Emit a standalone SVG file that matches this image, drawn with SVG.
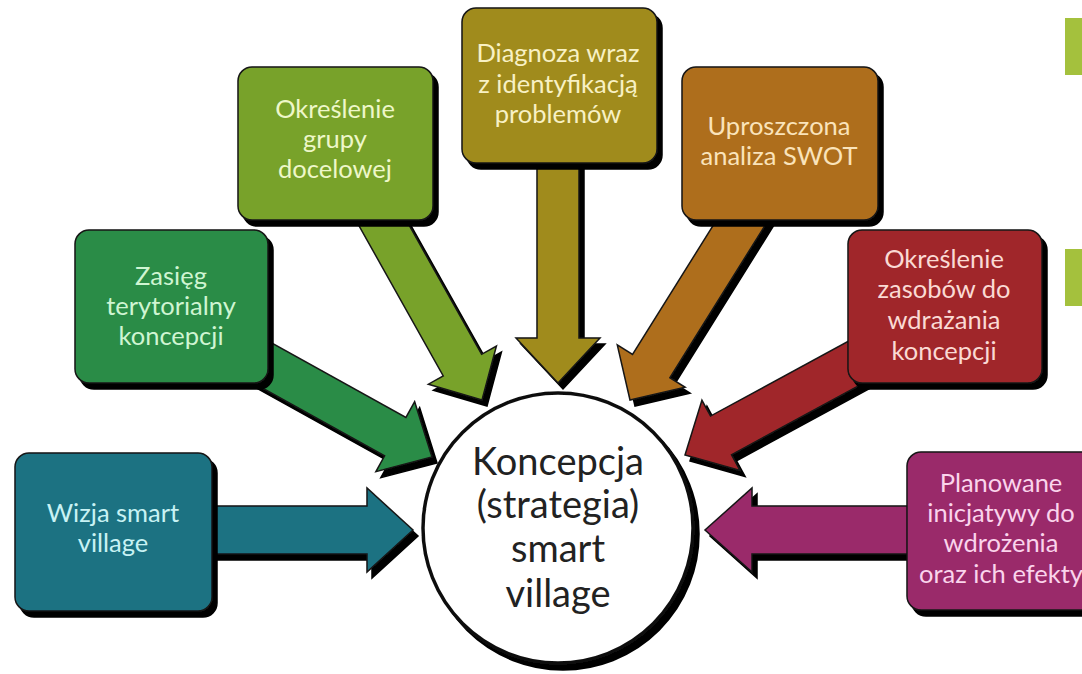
<svg xmlns="http://www.w3.org/2000/svg" width="1082" height="674" viewBox="0 0 1082 674">
<style>
.bx{stroke:#161616;stroke-width:1.5}
.ar{stroke:#161616;stroke-width:1.5;stroke-linejoin:miter}
.t{font-family:Lato,"Open Sans","Liberation Sans",sans-serif;font-size:25.5px;text-anchor:middle}
.c{font-family:Lato,"Open Sans","Liberation Sans",sans-serif;font-size:38px;text-anchor:middle;fill:#222}
</style>
<defs>
<filter id="sh" x="-20%" y="-20%" width="140%" height="140%">
<feOffset in="SourceAlpha" dx="5" dy="6" result="o"/>
<feMerge><feMergeNode in="o"/><feMergeNode in="SourceGraphic"/></feMerge>
</filter>
</defs>
<rect width="1082" height="674" fill="#ffffff"/>
<rect x="1065" y="18" width="17" height="57" fill="#a4c13d"/>
<rect x="1065" y="249" width="17" height="57" fill="#a4c13d"/>

<g id="connectors">
<g filter="url(#sh)"><polygon class="ar" fill="#1d7282" transform="translate(413,530)" points="-220,-24 -46,-24 -46,-42 0,0 -46,42 -46,24 -220,24"/></g>
<g filter="url(#sh)"><polygon class="ar" fill="#2b8c46" transform="translate(432,457) rotate(29)" points="-250,-22 -42,-22 -42,-40 0,0 -42,40 -42,22 -250,22"/></g>
<g filter="url(#sh)"><polygon class="ar" fill="#78a22b" transform="translate(482,400) rotate(60.7)" points="-260,-22 -40,-22 -40,-39 0,0 -40,39 -40,22 -260,22"/></g>
<g filter="url(#sh)"><polygon class="ar" fill="#a08b1e" transform="translate(558,383) rotate(90)" points="-280,-21 -45,-21 -45,-42 0,0 -45,42 -45,21 -280,21"/></g>
<g filter="url(#sh)"><polygon class="ar" fill="#ae6e1f" transform="translate(630,400) rotate(122)" points="-260,-22 -40,-22 -40,-40 0,0 -40,40 -40,22 -260,22"/></g>
<g filter="url(#sh)"><polygon class="ar" fill="#a0282a" transform="translate(685,455) rotate(151.5)" points="-250,-22 -41,-22 -41,-40 0,0 -41,40 -41,22 -250,22"/></g>
<g filter="url(#sh)"><polygon class="ar" fill="#9a2a6b" transform="translate(705,530) rotate(180)" points="-290,-24 -47,-24 -47,-42 0,0 -47,42 -47,24 -290,24"/></g>
</g>

<g id="wizja">
<rect class="bx" filter="url(#sh)" x="15" y="453" width="197" height="158" rx="14" fill="#1d7282"/>
<text class="t" fill="#c8f2f4"><tspan x="113" y="522">Wizja smart</tspan><tspan x="113" y="552">village</tspan></text>
</g>

<g id="zasieg">
<rect class="bx" filter="url(#sh)" x="75" y="230" width="193" height="153" rx="14" fill="#2b8c46"/>
<text class="t" fill="#cff5d2"><tspan x="171" y="285">Zasięg</tspan><tspan x="171" y="315">terytorialny</tspan><tspan x="171" y="345">koncepcji</tspan></text>
</g>

<g id="grupa">
<rect class="bx" filter="url(#sh)" x="238" y="67" width="195" height="153" rx="14" fill="#78a22b"/>
<text class="t" fill="#eef7c9"><tspan x="335" y="118">Określenie</tspan><tspan x="335" y="148">grupy</tspan><tspan x="335" y="178">docelowej</tspan></text>
</g>

<g id="diagnoza">
<rect class="bx" filter="url(#sh)" x="462" y="8" width="195" height="155" rx="14" fill="#a08b1e"/>
<text class="t" fill="#f8f1c4"><tspan x="558" y="62">Diagnoza wraz</tspan><tspan x="558" y="93">z identyfikacją</tspan><tspan x="558" y="123">problemów</tspan></text>
</g>

<g id="swot">
<rect class="bx" filter="url(#sh)" x="682" y="67" width="196" height="153" rx="14" fill="#ae6e1f"/>
<text class="t" fill="#fae3ba"><tspan x="779" y="135">Uproszczona</tspan><tspan x="779" y="165">analiza SWOT</tspan></text>
</g>

<g id="zasoby">
<rect class="bx" filter="url(#sh)" x="848" y="230" width="194" height="153" rx="14" fill="#a0282a"/>
<text class="t" fill="#fadad4"><tspan x="944" y="268">Określenie</tspan><tspan x="944" y="298">zasobów do</tspan><tspan x="944" y="329">wdrażania</tspan><tspan x="944" y="360">koncepcji</tspan></text>
</g>

<g id="inicjatywy">
<rect class="bx" filter="url(#sh)" x="907" y="452" width="190" height="158" rx="14" fill="#9a2a6b"/>
<text class="t" fill="#fad4ec"><tspan x="1001" y="492">Planowane</tspan><tspan x="1001" y="522">inicjatywy do</tspan><tspan x="1001" y="552">wdrożenia</tspan><tspan x="1001" y="583">oraz ich efekty</tspan></text>
</g>

<g id="koncepcja">
<g filter="url(#sh)"><circle cx="558" cy="528" r="135" fill="#ffffff" stroke="#111" stroke-width="3.5"/></g>
<text class="c"><tspan x="558" y="475">Koncepcja</tspan><tspan x="558" y="518">(strategia)</tspan><tspan x="558" y="562">smart</tspan><tspan x="558" y="607">village</tspan></text>
</g>
</svg>
